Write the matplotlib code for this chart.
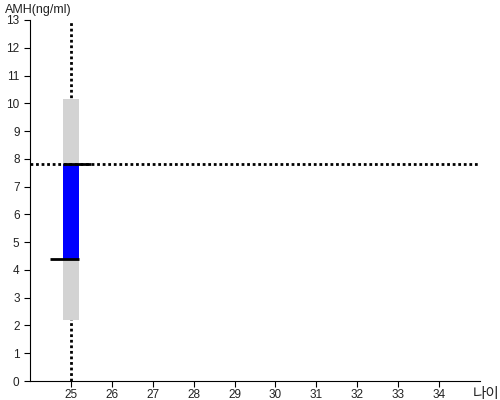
import matplotlib
matplotlib.use('Agg')
import matplotlib.pyplot as plt

plt.rcParams['font.family'] = ['Liberation Sans', 'Noto Sans CJK KR', 'DejaVu Sans']

age = 25
ref_low, ref_high = 2.2, 10.15
amh_low, amh_high = 4.4, 7.8
x_ticks = list(range(25, 35))
y_ticks = list(range(0, 14))

fig = plt.figure(figsize=(5, 4), dpi=100)
ax = fig.add_axes([0.06, 0.0475, 0.9, 0.9025])

# grey reference range, blue measured range
ax.bar(age, ref_high - ref_low, bottom=ref_low, width=0.4, color='#d3d3d3', zorder=1)
ax.bar(age, amh_high - amh_low, bottom=amh_low, width=0.4, color='#0000ff', zorder=2)
ax.hlines(amh_high, age - 0.2, age + 0.5, color='black', lw=2, zorder=4)
ax.hlines(amh_low, age - 0.5, age + 0.2, color='black', lw=2, zorder=4)

ax.axvline(age, color='black', ls=(0, (1, 1)), lw=2, zorder=0)
ax.axhline(amh_high, color='black', ls=(0, (1, 1)), lw=2, zorder=3)

ax.set_xlim(24, 35)
ax.set_ylim(0, 13)
ax.set_xticks(x_ticks)
ax.set_yticks(y_ticks)
ax.tick_params(labelsize=8.5, length=4, color='black', labelcolor='#222222')
ax.tick_params(axis='x', pad=1.5)
for s in ['top', 'right']:
    ax.spines[s].set_visible(False)

fig.text(0.01, 0.975, 'AMH(ng/ml)', fontsize=9, va='center', ha='left', color='#222222')
fig.text(1.0, 0.015, '나이', fontsize=10.5, va='center', ha='right', color='#222222',
         family=['Noto Sans CJK KR', 'DejaVu Sans'])

fig.savefig('out.png', dpi=100)
